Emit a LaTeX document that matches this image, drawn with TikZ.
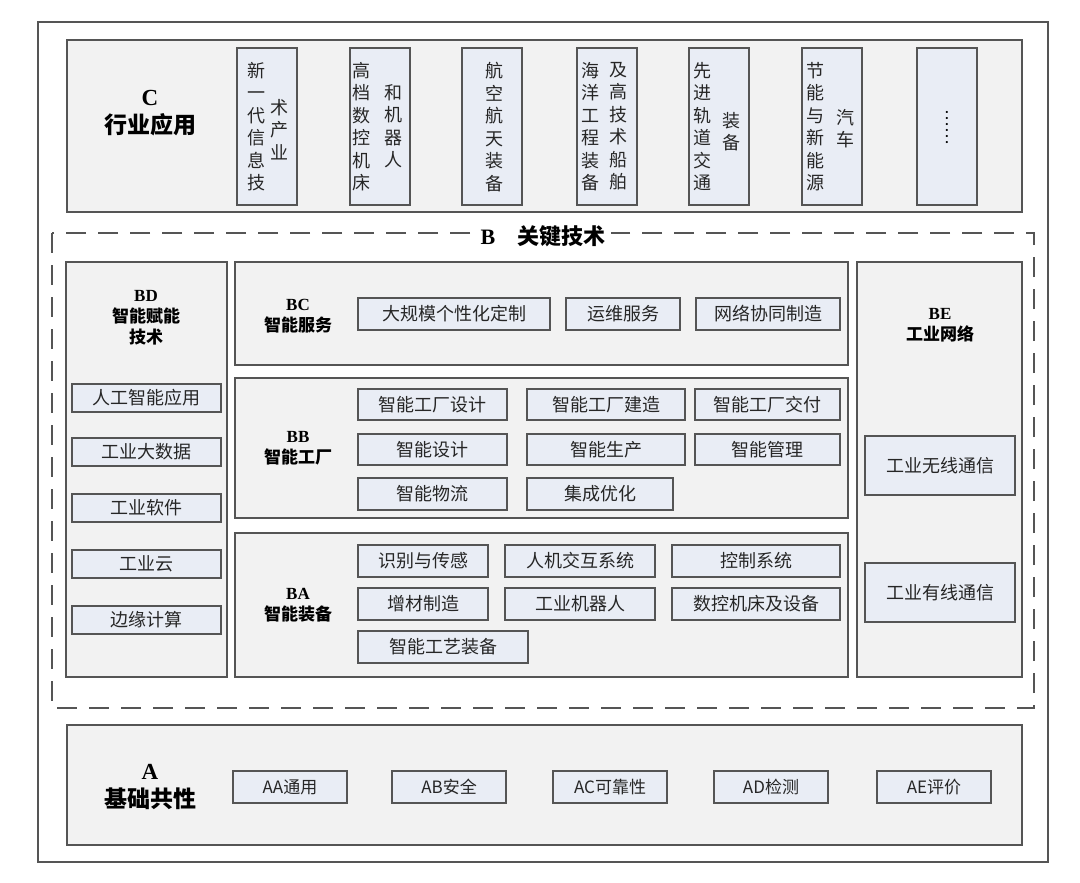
\documentclass[tikz,border=0pt]{standalone}
\usepackage{fontspec}
\setmainfont{Liberation Serif}
\newfontfamily\cjk{Noto Sans CJK SC}
\usetikzlibrary{positioning}
\definecolor{panelbg}{HTML}{F2F2F2}
\definecolor{itembg}{HTML}{E9EDF5}
\definecolor{edge}{HTML}{555555}
\newcommand\tightlines{\lineskiplimit=-20pt\relax\lineskip=0pt\relax}

\begin{document}
\begin{tikzpicture}[x=1pt, y=-1pt,
  panel/.style = {draw=edge, line width=1.2pt, fill=panelbg},
  itembox/.style = {draw=edge, line width=1.1pt, fill=itembg},
  itemtxt/.style = {font=\cjk\fontsize{18}{20}\selectfont, text=black!85},
  vcol/.style = {anchor=north, align=center, inner sep=0pt, text=black!85,
    font=\cjk\fontsize{18}{22.5}\selectfont\tightlines},
  head/.style = {align=center, font=\bfseries\cjk\fontsize{17}{21}\selectfont},
  bighead/.style = {align=center, font=\bfseries\cjk\fontsize{23}{28}\selectfont}]
  \useasboundingbox (0,0) rectangle (1080,883);
  \fill[white] (0,0) rectangle (1080,883);
  \draw[edge, line width=1.2pt] (38,22) rectangle (1048,862);

  % C
  \draw[panel] (67,40) rectangle (1022,212);
  \node[bighead] (C) at (150,113) {\rmfamily C\\行业应用};
  \foreach \x in {237,350,462,577,689,802,917} {
    \draw[itembox] (\x,48) rectangle ++(60,157);
  }
  \node[vcol] (c1a) at (256,62) {新\\一\\代\\信\\息\\技};
  \node[vcol] (c1b) at (279,99) {术\\产\\业};
  \node[vcol] (c2a) at (361,62) {高\\档\\数\\控\\机\\床};
  \node[vcol] (c2b) at (393,84) {和\\机\\器\\人};
  \node[vcol] (c3) at (494,62) {航\\空\\航\\天\\装\\备};
  \node[vcol] (c4a) at (590,62) {海\\洋\\工\\程\\装\\备};
  \node[vcol] (c4b) at (618,62) {及\\高\\技\\术\\船\\舶};
  \node[vcol] (c5a) at (702,62) {先\\进\\轨\\道\\交\\通};
  \node[vcol] (c5b) at (731,112) {装\\备};
  \node[vcol] (c6a) at (815,62) {节\\能\\与\\新\\能\\源};
  \node[vcol] (c6b) at (845,109) {汽\\车};
  \node[font=\fontsize{18}{18}\selectfont, rotate=-90] (c7) at (947,128) {……};

  % B
  \draw[edge, dashed, dash pattern=on 20pt off 12pt, line width=1.2pt] (52,233) rectangle (1034,708);
  \node[fill=white, inner xsep=6pt, font=\cjk\fontsize{22}{24}\selectfont\bfseries] (B) at (543,236) {\rmfamily B\quad\cjk 关键技术};

  \draw[panel] (66,262) rectangle (227,677);
  \node[head] (BD) at (146,318) {\rmfamily BD\\智能赋能\\技术};
  \draw[panel] (235,262) rectangle (848,365);
  \node[head] (BC) at (298,316) {\rmfamily BC\\智能服务};
  \draw[panel] (235,378) rectangle (848,518);
  \node[head] (BB) at (298,448) {\rmfamily BB\\智能工厂};
  \draw[panel] (235,533) rectangle (848,677);
  \node[head] (BA) at (298,605) {\rmfamily BA\\智能装备};
  \draw[panel] (857,262) rectangle (1022,677);
  \node[head] (BE) at (940,325) {\rmfamily BE\\工业网络};

  % items: x1,y1,x2,y2,text
  \foreach \xa/\ya/\xb/\yb/\t in {
      72/384/221/412/人工智能应用, 72/438/221/466/工业大数据, 72/494/221/522/工业软件,
      72/550/221/578/工业云, 72/606/221/634/边缘计算,
      358/298/550/330/大规模个性化定制, 566/298/680/330/运维服务, 696/298/840/330/网络协同制造,
      358/389/507/420/智能工厂设计, 527/389/685/420/智能工厂建造, 695/389/840/420/智能工厂交付,
      358/434/507/465/智能设计, 527/434/685/465/智能生产, 695/434/840/465/智能管理,
      358/478/507/510/智能物流, 527/478/673/510/集成优化,
      358/545/488/577/识别与传感, 505/545/655/577/人机交互系统, 672/545/840/577/控制系统,
      358/588/488/620/增材制造, 505/588/655/620/工业机器人, 672/588/840/620/数控机床及设备,
      358/631/528/663/智能工艺装备,
      865/436/1015/495/工业无线通信, 865/563/1015/622/工业有线通信} {
    \draw[itembox] (\xa,\ya) rectangle (\xb,\yb);
    \node[itemtxt] at ({(\xa+\xb)/2},{(\ya+\yb)/2}) {\t};
  }

  % A
  \draw[panel] (67,725) rectangle (1022,845);
  \node[bighead] (A) at (150,787) {\rmfamily A\\基础共性};
  \foreach \xa/\t in {233/AA通用, 392/AB安全, 553/AC可靠性, 714/AD检测, 877/AE评价} {
    \draw[itembox] (\xa,771) rectangle ++(114,32);
    \node[itemtxt, font=\cjk\fontsize{17}{20}\selectfont] at (\xa+57,787) {\t};
  }
\end{tikzpicture}
\end{document}
